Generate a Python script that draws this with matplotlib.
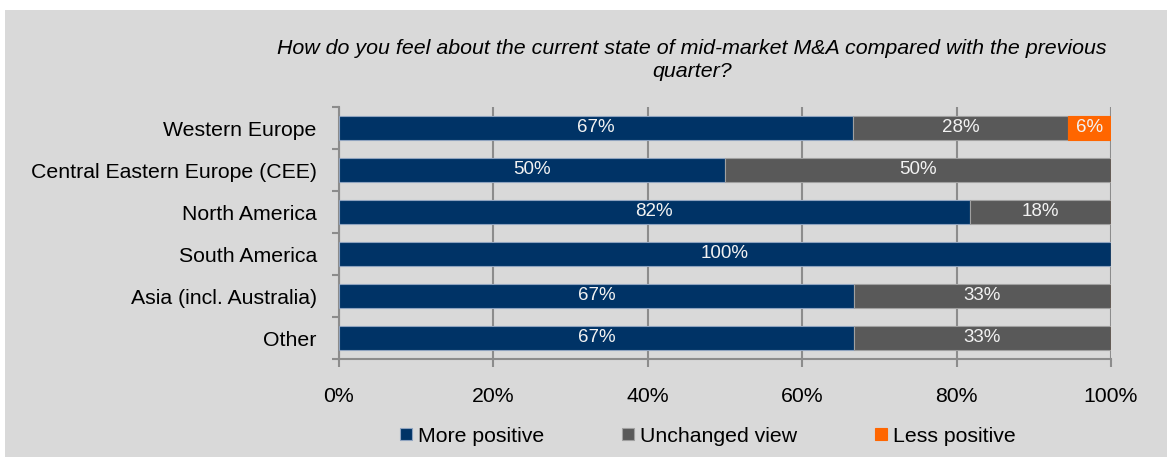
import matplotlib.pyplot as plt
from matplotlib.patches import Rectangle

plt.rcParams['font.family'] = ['Liberation Sans', 'DejaVu Sans']

regions = ['Western Europe', 'Central Eastern Europe (CEE)', 'North America',
           'South America', 'Asia (incl. Australia)', 'Other']
more_positive = [66.6, 50.0, 81.7, 100.0, 66.7, 66.7]
unchanged = [27.8, 50.0, 18.3, 0.0, 33.3, 33.3]
less_positive = [5.6, 0.0, 0.0, 0.0, 0.0, 0.0]
series_names = ['More positive', 'Unchanged view', 'Less positive']
colors = ['#003366', '#595959', '#FF6600']
xticks = [0, 20, 40, 60, 80, 100]
title = ('How do you feel about the current state of mid-market M&A compared with the previous\n'
         'quarter?')

fig = plt.figure(figsize=(11.67, 4.57), dpi=100)
fig.patch.set_facecolor('white')
fig.patches.append(Rectangle((5/1167, 0), 1 - 5/1167, 1 - 10/457, transform=fig.transFigure,
                             facecolor='#D9D9D9', edgecolor='none', zorder=-10))

ax = fig.add_axes([339/1167, 1 - 359/457, 772/1167, 252/457])
ax.set_facecolor('none')
ax.set_zorder(5)

y = list(range(len(regions)))
left = [0.0] * len(regions)
for vals, name, c in zip([more_positive, unchanged, less_positive], series_names, colors):
    ec = {'#003366': '#8FA3BF', '#595959': '#A0A0A0', '#FF6600': '#FF6600'}[c]
    ax.barh(y, vals, left=left, height=0.57, color=c, edgecolor=ec, linewidth=0.8,
            label=name, zorder=3)
    for i, v in enumerate(vals):
        if v > 0:
            ax.text(left[i] + v / 2, i, f'{v:.0f}%', ha='center', va='center',
                    color='#F2F2F2', fontsize=13.5, zorder=4)
    left = [l + v for l, v in zip(left, vals)]

ax.set_xlim(0, 100)
ax.set_ylim(len(regions) - 0.5, -0.5)
ax.set_xticks(xticks)
ax.set_xticklabels([f'{t}%' for t in xticks], fontsize=15.3)
ax.set_yticks(y)
ax.set_yticklabels(regions, fontsize=15.3)
ax.set_yticks([i - 0.5 for i in range(len(regions) + 1)], minor=True)
ax.tick_params(axis='y', which='major', length=0, pad=16)
ax.tick_params(axis='y', which='minor', length=5, width=1.5, color='#8C8C8C')
ax.tick_params(axis='x', length=6, width=1.5, color='#8C8C8C', pad=14)
ax.grid(axis='x', color='#8C8C8C', linewidth=1.5, zorder=1)
for s in ['top', 'right']:
    ax.spines[s].set_visible(False)
for s in ['left', 'bottom']:
    ax.spines[s].set_color('#8C8C8C')
    ax.spines[s].set_linewidth(1.5)

fig.text(692/1167, 1 - 60/457, title, ha='center', va='center', fontsize=15.4,
         style='italic', linespacing=1.3)

fig.legend(loc='center', bbox_to_anchor=(708/1167, 1 - 436/457), ncol=3,
           frameon=False, fontsize=15.3, handlelength=0.55, handleheight=0.55,
           handletextpad=0.3, columnspacing=3.65)

fig.savefig('out.png', dpi=100, facecolor=fig.get_facecolor())
